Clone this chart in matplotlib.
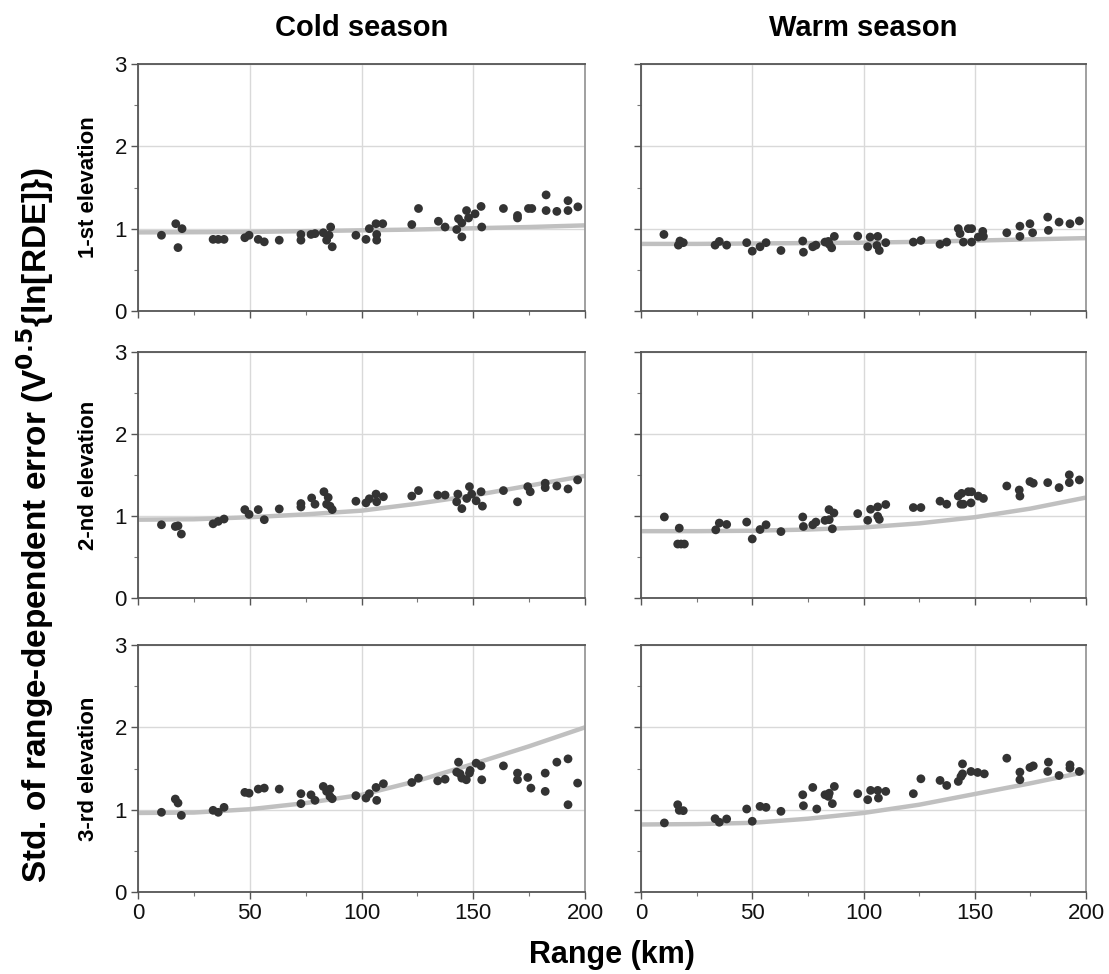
import matplotlib
matplotlib.use("Agg")
import matplotlib.pyplot as plt
from matplotlib.ticker import MultipleLocator
from matplotlib import font_manager

plt.rcParams['font.family'] = ['Liberation Sans', 'DejaVu Sans']

# ---- data ----
col_titles = ["Cold season", "Warm season"]
row_labels = ["1-st elevation", "2-nd elevation", "3-rd elevation"]
x_ticks = [0, 50, 100, 150, 200]
y_ticks = [0, 1, 2, 3]

# fitted curve sampled at these ranges
fit_x = [0, 25, 50, 75, 100, 125, 150, 175, 200]

# Row 1, cold
c1_x = [10.5, 16.9, 17.9, 19.7, 33.6, 35.9, 38.5, 47.8, 49.7, 53.8, 56.5, 63.2, 72.9, 72.9,
        77.4, 79.2, 82.9, 84.4, 86.2, 85.5, 86.9, 97.5, 102.0, 103.5, 106.8, 106.8, 106.5, 109.5,
        122.5, 125.5, 134.4, 137.4, 142.6, 143.4, 144.9, 144.9, 147.0, 147.9, 150.8, 153.5, 153.8,
        163.5, 169.8, 169.8, 174.7, 176.2, 182.6, 182.6, 187.4, 192.4, 192.4, 196.8]
c1_y = [0.92, 1.06, 0.77, 1.00, 0.87, 0.87, 0.87, 0.89, 0.92, 0.87, 0.84, 0.86, 0.93, 0.86,
        0.93, 0.94, 0.95, 0.86, 1.02, 0.92, 0.78, 0.92, 0.87, 1.00, 0.93, 0.86, 1.06, 1.06,
        1.05, 1.245, 1.09, 1.02, 0.99, 1.12, 1.07, 0.90, 1.22, 1.13, 1.18, 1.27, 1.02,
        1.245, 1.16, 1.13, 1.245, 1.245, 1.41, 1.22, 1.21, 1.34, 1.22, 1.265]
c1_fit = [0.955, 0.957, 0.96, 0.97, 0.98, 0.99, 1.005, 1.02, 1.04]

# Row 1, warm
w1_x = [10.3, 16.8, 17.5, 19.0, 33.3, 35.2, 38.5, 47.5, 50.0, 53.5, 56.2, 62.9, 72.7, 73.0,
        77.2, 78.6, 82.7, 84.2, 84.6, 85.7, 86.9, 97.4, 101.9, 103.0, 106.4, 106.0, 107.1, 110.0,
        122.4, 125.8, 134.4, 137.4, 142.6, 143.4, 144.9, 147.1, 148.6, 148.6, 151.6, 153.9, 153.6,
        164.4, 170.3, 170.3, 174.8, 176.0, 182.8, 183.1, 187.9, 192.8, 197.0]
w1_y = [0.93, 0.80, 0.85, 0.83, 0.80, 0.845, 0.80, 0.83, 0.727, 0.78, 0.83, 0.735, 0.85, 0.714,
        0.78, 0.80, 0.837, 0.845, 0.81, 0.767, 0.906, 0.91, 0.78, 0.898, 0.906, 0.796, 0.735, 0.83,
        0.837, 0.857, 0.81, 0.837, 1.00, 0.94, 0.837, 1.00, 1.00, 0.837, 0.898, 0.906, 0.967,
        0.95, 1.03, 0.906, 1.06, 0.95, 1.14, 0.98, 1.08, 1.06, 1.094]
w1_fit = [0.815, 0.815, 0.82, 0.825, 0.83, 0.84, 0.855, 0.87, 0.885]

# Row 2, cold
c2_x = [10.5, 16.7, 17.9, 19.4, 33.6, 35.9, 38.5, 47.8, 49.7, 53.8, 56.5, 63.2, 72.9, 72.9,
        77.7, 79.2, 83.2, 85.1, 84.4, 85.9, 86.9, 97.5, 102.0, 103.5, 106.5, 106.8, 109.8,
        122.5, 125.5, 134.1, 137.4, 143.1, 142.6, 144.9, 147.1, 148.3, 149.3, 151.3, 153.5, 154.1,
        163.5, 169.8, 174.4, 175.5, 182.2, 182.2, 187.4, 192.4, 196.7]
c2_y = [0.893, 0.872, 0.88, 0.78, 0.905, 0.934, 0.963, 1.078, 1.02, 1.078, 0.955, 1.086, 1.152, 1.11,
        1.22, 1.144, 1.296, 1.226, 1.144, 1.12, 1.078, 1.18, 1.16, 1.21, 1.267, 1.173, 1.235,
        1.243, 1.31, 1.255, 1.255, 1.267, 1.173, 1.09, 1.214, 1.358, 1.267, 1.185, 1.296, 1.12,
        1.31, 1.173, 1.358, 1.296, 1.40, 1.346, 1.366, 1.33, 1.44]
c2_fit = [0.955, 0.96, 0.985, 1.02, 1.065, 1.15, 1.25, 1.37, 1.49]

# Row 2, warm
w2_x = [10.5, 17.2, 16.5, 18.0, 19.5, 33.6, 35.2, 38.5, 47.5, 50.0, 53.5, 56.2, 62.9, 72.7, 73.0,
        77.2, 78.6, 82.7, 84.6, 84.5, 86.7, 86.0, 97.4, 101.9, 103.2, 106.4, 110.0, 106.4, 107.1,
        122.4, 125.8, 134.4, 137.4, 142.6, 143.8, 144.9, 144.1, 147.1, 148.6, 148.3, 151.6, 153.9,
        164.4, 170.0, 170.3, 174.8, 176.3, 182.8, 187.9, 192.5, 192.5, 197.0]
w2_y = [0.988, 0.852, 0.658, 0.658, 0.658, 0.831, 0.914, 0.897, 0.926, 0.72, 0.835, 0.893, 0.81, 0.988, 0.872,
        0.893, 0.926, 0.947, 0.955, 1.078, 1.037, 0.844, 1.029, 0.947, 1.082, 1.111, 1.14, 0.996, 0.959,
        1.103, 1.103, 1.181, 1.144, 1.243, 1.144, 1.144, 1.276, 1.296, 1.296, 1.16, 1.243, 1.214,
        1.366, 1.317, 1.243, 1.42, 1.40, 1.407, 1.346, 1.502, 1.407, 1.44]
w2_fit = [0.815, 0.815, 0.82, 0.835, 0.86, 0.91, 0.985, 1.09, 1.225]

# Row 3, cold
c3_x = [10.5, 16.7, 17.9, 19.4, 33.6, 35.9, 38.5, 47.8, 49.7, 53.8, 56.5, 63.2, 72.9, 72.9,
        77.4, 79.2, 82.9, 84.4, 85.9, 85.9, 86.9, 97.5, 102.0, 103.5, 106.5, 106.8, 109.8,
        122.5, 125.5, 134.1, 137.4, 143.4, 142.6, 144.1, 144.9, 146.9, 148.3, 148.6, 151.3, 153.5, 153.8,
        163.5, 169.8, 169.8, 174.4, 175.8, 182.2, 182.2, 187.4, 192.4, 192.4, 196.7]
c3_y = [0.968, 1.129, 1.081, 0.931, 0.992, 0.968, 1.028, 1.21, 1.20, 1.25, 1.262, 1.25, 1.194, 1.073,
        1.18, 1.113, 1.282, 1.222, 1.25, 1.16, 1.133, 1.17, 1.141, 1.194, 1.27, 1.113, 1.315,
        1.33, 1.383, 1.35, 1.37, 1.577, 1.456, 1.435, 1.383, 1.363, 1.444, 1.476, 1.565, 1.532, 1.363,
        1.532, 1.444, 1.363, 1.391, 1.262, 1.444, 1.222, 1.577, 1.617, 1.06, 1.323]
c3_fit = [0.96, 0.965, 1.005, 1.08, 1.18, 1.35, 1.555, 1.77, 2.0]

# Row 3, warm
w3_x = [10.5, 16.5, 17.2, 19.0, 33.3, 35.2, 38.5, 47.5, 50.0, 53.5, 56.2, 62.9, 72.7, 73.0,
        77.2, 79.0, 82.7, 84.6, 84.2, 86.0, 86.9, 97.4, 101.9, 103.2, 106.4, 110.0, 106.7,
        122.4, 125.8, 134.4, 137.4, 142.6, 143.8, 144.5, 144.5, 148.3, 151.3, 154.3,
        164.4, 170.3, 170.3, 174.8, 176.3, 183.1, 182.8, 187.9, 192.8, 192.8, 197.0]
w3_y = [0.839, 1.06, 0.992, 0.988, 0.891, 0.847, 0.887, 1.008, 0.859, 1.04, 1.028, 0.98, 1.181, 1.048,
        1.27, 1.008, 1.181, 1.20, 1.161, 1.073, 1.282, 1.194, 1.121, 1.234, 1.234, 1.222, 1.141,
        1.194, 1.375, 1.355, 1.294, 1.343, 1.403, 1.556, 1.435, 1.464, 1.452, 1.435,
        1.625, 1.456, 1.363, 1.512, 1.532, 1.577, 1.464, 1.415, 1.544, 1.504, 1.464]
w3_fit = [0.82, 0.825, 0.84, 0.89, 0.96, 1.06, 1.19, 1.32, 1.46]

panels = [
    [(c1_x, c1_y, c1_fit), (w1_x, w1_y, w1_fit)],
    [(c2_x, c2_y, c2_fit), (w2_x, w2_y, w2_fit)],
    [(c3_x, c3_y, c3_fit), (w3_x, w3_y, w3_fit)],
]

# ---- layout ----
W, H = 1109, 974
fig = plt.figure(figsize=(W / 100, H / 100), dpi=100)

col_px = [(138, 585), (641, 1086)]
row_px = [(64, 311), (352, 598), (645, 892)]

axes = []
for r, (top, bot) in enumerate(row_px):
    for c, (left, right) in enumerate(col_px):
        ax = fig.add_axes([left / W, 1 - bot / H, (right - left) / W, (bot - top) / H])
        xs, ys, fit = panels[r][c]
        ax.plot(fit_x, fit, color='#c0c0c0', lw=3.2, solid_capstyle='butt', zorder=2)
        ax.scatter(xs, ys, s=40, color='#333333', edgecolors='none', zorder=3)
        ax.set_xlim(0, 200)
        ax.set_ylim(0, 3)
        ax.set_xticks(x_ticks)
        ax.set_yticks(y_ticks)
        ax.xaxis.set_minor_locator(MultipleLocator(25))
        ax.yaxis.set_minor_locator(MultipleLocator(0.5))
        ax.grid(True, which='major', color='#d9d9d9', lw=1.0, zorder=0)
        ax.set_axisbelow(True)
        ax.tick_params(which='major', direction='out', length=5, width=1.0, color='#555555',
                       labelsize=16, labelcolor='#111111', pad=3)
        ax.tick_params(which='minor', direction='out', length=3, width=0.8, color='#777777')
        ax.tick_params(axis='x', which='both', top=False)
        ax.tick_params(axis='y', which='both', right=False)
        for side in ['left', 'bottom', 'top']:
            ax.spines[side].set_color('#555555')
            ax.spines[side].set_linewidth(1.3)
        ax.spines['right'].set_color('#999999')
        ax.spines['right'].set_linewidth(1.3)
        if r < 2:
            ax.set_xticklabels([])
        if c == 1:
            ax.set_yticklabels([])
        if r == 0:
            ax.set_title(col_titles[c], fontsize=21, fontweight='bold', pad=20)
        axes.append(ax)

# row labels
for r, (top, bot) in enumerate(row_px):
    fig.text(88 / W, 1 - (top + bot) / 2 / H, row_labels[r], rotation=90, ha='center', va='center',
             fontsize=16, fontweight='bold', fontstretch='condensed',
             family=['Liberation Sans Narrow', 'Liberation Sans', 'DejaVu Sans'])

# shared y label
fig.text(35 / W, 1 - 525 / H, r"Std. of range-dependent error (V$^{\mathbf{0.5}}${ln[RDE]})", rotation=90,
         ha='center', va='center', fontsize=24, fontweight='bold')

# shared x label
fig.text(612 / W, 1 - 955 / H, "Range (km)", ha='center', va='center', fontsize=22, fontweight='bold')

fig.savefig("out.png", dpi=100)
